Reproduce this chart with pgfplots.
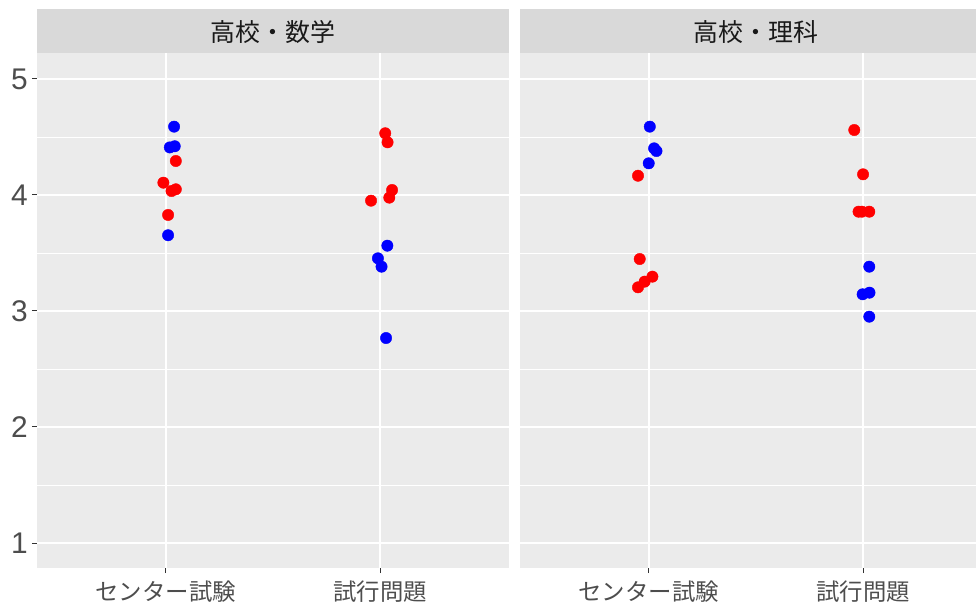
\documentclass[border=0pt]{standalone}
\usepackage{pgfplots}
\pgfplotsset{compat=1.18}
\usepackage{fontspec}
\setmainfont{Liberation Sans}
\newfontfamily\cjk{Noto Sans CJK JP}

\definecolor{panelbg}{HTML}{EBEBEB}
\definecolor{stripbg}{HTML}{D9D9D9}
\definecolor{ticktext}{HTML}{4D4D4D}
\definecolor{tickline}{HTML}{333333}

% 高校・数学
\pgfplotstableread{
x y
1.039 4.589
1.019 4.410
1.042 4.420
1.011 3.653
}\mathCenterBlue
\pgfplotstableread{
x y
1.047 4.293
0.989 4.106
1.027 4.034
1.047 4.049
1.011 3.828
}\mathCenterRed
\pgfplotstableread{
x y
2.023 4.532
2.034 4.454
2.055 4.043
2.042 3.977
1.957 3.951
}\mathTrialRed
\pgfplotstableread{
x y
2.033 3.563
1.989 3.454
2.006 3.382
2.027 2.767
}\mathTrialBlue

% 高校・理科
\pgfplotstableread{
x y
1.005 4.589
1.025 4.402
1.036 4.379
1.000 4.273
}\sciCenterBlue
\pgfplotstableread{
x y
0.950 4.166
0.958 3.448
1.017 3.296
0.981 3.253
0.950 3.204
}\sciCenterRed
\pgfplotstableread{
x y
1.958 4.560
1.999 4.178
1.978 3.856
1.994 3.856
2.028 3.856
}\sciTrialRed
\pgfplotstableread{
x y
2.028 3.382
2.029 3.158
1.997 3.144
2.028 2.951
}\sciTrialBlue

\pgfplotsset{
  facet/.style={
    scale only axis,
    width=472bp, height=515bp,
    anchor=south west,
    xmin=0.4, xmax=2.6,
    ymin=0.7845, ymax=5.224,
    axis background/.style={fill=panelbg},
    axis line style={draw=none},
    xtick={1,2},
    xticklabels={{\cjk センター試験},{\cjk 試行問題}},
    ytick={1,2,3,4,5},
    minor ytick={1.5,2.5,3.5,4.5},
    xmajorgrids, ymajorgrids, yminorgrids,
    major grid style={white, line width=1.6bp},
    minor grid style={white, line width=0.8bp},
    tick align=outside,
    major tick length=5bp,
    minor tick length=0pt,
    tick style={tickline, line width=1bp},
    xtick pos=bottom, ytick pos=left,
    /pgf/number format/assume math mode=true,
    xticklabel style={font=\fontsize{23.5}{26}\selectfont, text=ticktext, inner sep=0pt, yshift=-8bp},
    yticklabel style={font=\fontsize{30}{30}\selectfont, text=ticktext, inner sep=0pt, xshift=-4bp},
    clip=false,
  },
  dots/.style={only marks, mark=*, mark size=5.7bp, color=#1, mark options={draw=none, fill=#1}},
}

\begin{document}
\begin{tikzpicture}
\path[use as bounding box] (0,0) rectangle (976bp,606bp);

\begin{axis}[facet, name=L, at={(37bp,38bp)}]
  \addplot[dots=red] table {\mathCenterRed};
  \addplot[dots=blue] table {\mathCenterBlue};
  \addplot[dots=red] table {\mathTrialRed};
  \addplot[dots=blue] table {\mathTrialBlue};
\end{axis}

\begin{axis}[facet, name=R, at={(520bp,38bp)},
             yticklabels={}, ytick style={draw=none}]
  \addplot[dots=red] table {\sciCenterRed};
  \addplot[dots=blue] table {\sciCenterBlue};
  \addplot[dots=red] table {\sciTrialRed};
  \addplot[dots=blue] table {\sciTrialBlue};
\end{axis}

% facet strips
\fill[stripbg] (L.north west) rectangle ([yshift=44bp]L.north east);
\fill[stripbg] (R.north west) rectangle ([yshift=44bp]R.north east);
\node[font=\cjk\fontsize{25}{27}\selectfont, text=black!90] at ([yshift=21bp]L.north) {高校・数学};
\node[font=\cjk\fontsize{25}{27}\selectfont, text=black!90] at ([yshift=21bp]R.north) {高校・理科};
\end{tikzpicture}
\end{document}
